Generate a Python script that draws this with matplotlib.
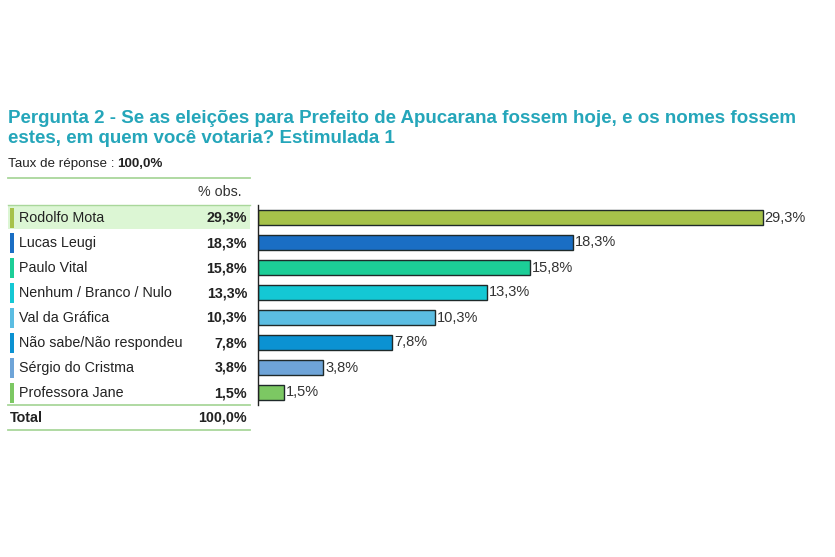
import matplotlib.pyplot as plt
from matplotlib.patches import Rectangle
from matplotlib.lines import Line2D

plt.rcParams['font.family'] = ['Liberation Sans', 'DejaVu Sans']

names = ['Rodolfo Mota', 'Lucas Leugi', 'Paulo Vital', 'Nenhum / Branco / Nulo',
         'Val da Gráfica', 'Não sabe/Não respondeu', 'Sérgio do Cristma', 'Professora Jane']
values = [29.3, 18.3, 15.8, 13.3, 10.3, 7.8, 3.8, 1.5]
colors = ['#a6c24a', '#1a6ec4', '#1cce97', '#14c8d4', '#5bbde2', '#0b92d2', '#6ea4d8', '#7cc863']
total = 100.0

title = ('Pergunta 2 - Se as eleições para Prefeito de Apucarana fossem hoje, e os nomes fossem\n'
         'estes, em quem você votaria? Estimulada 1')

W, H = 835, 557
fs = 10.3


def fmt(v):
    return f'{v:.1f}'.replace('.', ',') + '%'


def fx(x):
    return x / W


def fy(y):
    return 1 - y / H


fig = plt.figure(figsize=(W / 100, H / 100), dpi=100)

# title and response rate
fig.text(fx(8), fy(110), title, color='#25a6ba', fontsize=13.5, fontweight='bold',
         va='top', ha='left', linespacing=1.25)
fig.text(fx(8), fy(164), 'Taux de réponse :', fontsize=9.6, va='center', color='#222222')
fig.text(fx(117), fy(164), fmt(total), fontsize=9.6, fontweight='bold', va='center', color='#222222')

line_col = '#a9d79b'
for yy in [178, 405, 430]:
    fig.add_artist(Line2D([fx(8), fx(250)], [fy(yy), fy(yy)], color=line_col, lw=1.3))

fig.text(fx(242), fy(192), '% obs.', fontsize=fs, ha='right', va='center', color='#333333')

# highlighted first row
fig.add_artist(Rectangle((fx(8), fy(229)), fx(242), 24 / H, facecolor='#dcf6d4',
                         edgecolor='none', zorder=0))
fig.add_artist(Line2D([fx(8), fx(250)], [fy(205), fy(205)], color=line_col, lw=1.0))

row0, step = 218, 25
for i, (n, v, c) in enumerate(zip(names, values, colors)):
    y = row0 + i * step
    fig.add_artist(Rectangle((fx(10), fy(y + 10)), 4 / W, 20 / H, facecolor=c, edgecolor='none'))
    fig.text(fx(19), fy(y), n, fontsize=fs, va='center', ha='left', color='#222222')
    fig.text(fx(247), fy(y), fmt(v), fontsize=fs, fontweight='bold', va='center',
             ha='right', color='#222222')

fig.text(fx(10), fy(418), 'Total', fontsize=fs, fontweight='bold', va='center', color='#222222')
fig.text(fx(247), fy(418), fmt(total), fontsize=fs, fontweight='bold', va='center',
         ha='right', color='#222222')

# bar chart
ax = fig.add_axes([fx(258), fy(405), fx(835 - 258), 200 / H])
pos = list(range(len(values)))
ax.barh(pos, values, height=0.58, color=colors, edgecolor='#1f2a2a', linewidth=1.0)
for p, v in zip(pos, values):
    ax.text(v + 0.1, p, fmt(v), va='center', ha='left', fontsize=10.5, color='#333333')
ax.set_xlim(0, (835 - 258) / 17.22)
ax.set_ylim(len(values) - 0.5, -0.5)
for s in ['top', 'right', 'bottom']:
    ax.spines[s].set_visible(False)
ax.spines['left'].set_color('#222222')
ax.spines['left'].set_linewidth(1.0)
ax.set_xticks([])
ax.set_yticks([])
ax.patch.set_alpha(0)

fig.savefig('out.png', dpi=100)
